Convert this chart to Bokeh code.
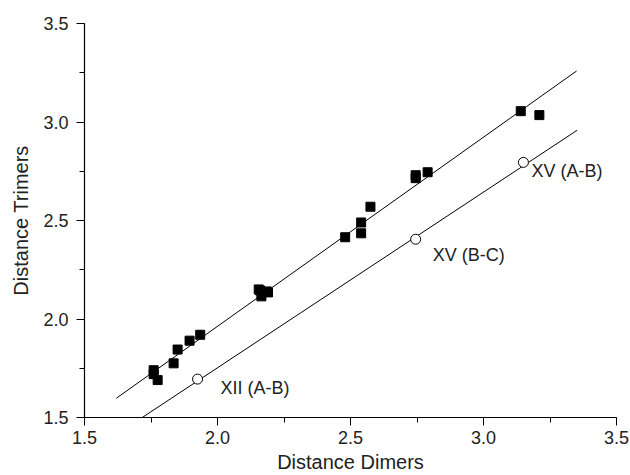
from bokeh.plotting import figure
from bokeh.models import Range1d, SingleIntervalTicker, PrintfTickFormatter, ColumnDataSource
from bokeh.core.properties import value
from bokeh.embed import file_html
from bokeh.resources import INLINE

# Data: dimers vs trimers distances
square_x = [1.76, 1.76, 1.775, 1.835, 1.85, 1.895, 1.935, 2.155, 2.16, 2.165, 2.185, 2.19,
            2.48, 2.54, 2.54, 2.575, 2.745, 2.745, 2.79, 3.14, 3.21]
square_y = [1.74, 1.72, 1.69, 1.775, 1.845, 1.89, 1.92, 2.15, 2.145, 2.115, 2.14, 2.135,
            2.415, 2.49, 2.435, 2.57, 2.715, 2.73, 2.745, 3.055, 3.035]

circle_x = [1.925, 2.745, 3.15]
circle_y = [1.695, 2.405, 2.795]
circle_labels = ["XII (A-B)", "XV (B-C)", "XV (A-B)"]

# Fitted lines (end points)
upper_fit_x = [1.62, 3.35]
upper_fit_y = [1.598, 3.259]
lower_fit_x = [1.717, 3.352]
lower_fit_y = [1.5, 2.958]

# label offsets (screen px) - styling
label_dx = [23, 17, 8]
label_dy = [9, 16, 9]

FONT = "Liberation Sans"

p = figure(width=630, height=475, output_backend="svg", toolbar_location=None,
           x_range=Range1d(1.5, 3.5), y_range=Range1d(1.5, 3.5),
           min_border_left=84, min_border_right=14, min_border_top=23, min_border_bottom=57)
p.outline_line_color = None
p.xgrid.visible = False
p.ygrid.visible = False
p.background_fill_color = "white"
p.border_fill_color = "white"

for ax in (p.xaxis[0], p.yaxis[0]):
    ax.ticker = SingleIntervalTicker(interval=0.5, num_minor_ticks=2)
    ax.formatter = PrintfTickFormatter(format="%.1f")
    ax.axis_line_color = "black"
    ax.axis_line_width = 1.2
    ax.major_tick_line_color = "black"
    ax.minor_tick_line_color = "black"
    ax.major_tick_in = 0
    ax.major_tick_out = 8
    ax.minor_tick_in = 0
    ax.minor_tick_out = 5
    ax.major_label_text_font = FONT
    ax.major_label_text_font_size = "18px"
    ax.major_label_text_color = "#222222"
    ax.axis_label_text_font = FONT
    ax.axis_label_text_font_size = "20px"
    ax.axis_label_text_font_style = "normal"
    ax.axis_label_text_color = "#222222"

p.xaxis.axis_label = "Distance Dimers"
p.yaxis.axis_label = "Distance Trimers"
p.xaxis.major_label_standoff = 5
p.xaxis.axis_label_standoff = 4
p.yaxis.major_label_standoff = 8
p.yaxis.axis_label_standoff = 8

p.line(upper_fit_x, upper_fit_y, line_color="black", line_width=1)
p.line(lower_fit_x, lower_fit_y, line_color="black", line_width=1)

p.scatter(square_x, square_y, marker="square", size=9, fill_color="black", line_color="black")

src = ColumnDataSource(dict(x=circle_x, y=circle_y, t=circle_labels, dx=label_dx, dy=label_dy))
p.scatter("x", "y", source=src, marker="circle", size=10, fill_color="white",
          line_color="black", line_width=1)
p.text("x", "y", text="t", source=src, x_offset="dx", y_offset="dy",
       text_font=value(FONT), text_font_size="18px", text_align="left",
       text_baseline="middle", text_color="#222222")

open("out.html", "w").write(file_html(p, INLINE))
